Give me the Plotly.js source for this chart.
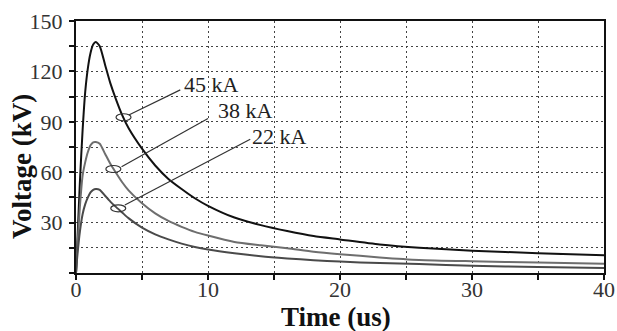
<!DOCTYPE html>
<html><head><meta charset="utf-8">
<script src="https://cdn.plot.ly/plotly-3.0.1.min.js"></script>
<style>html,body{margin:0;padding:0;background:#fff}#chart{width:617px;height:331px}</style>
</head><body><div id="chart"></div>
<script>
// Time (us)
const time = [0, 0.1, 0.3, 0.5, 0.7, 0.9, 1.1, 1.3, 1.5, 1.8, 2.2, 2.6, 3, 3.5, 4, 5, 6, 7, 8, 9, 10, 12, 14, 16, 18, 20, 23, 26, 30, 35, 40];
// Voltage (kV) for each current
const v45 = [0, 18, 55, 85, 108, 122, 131, 136, 137.5, 135, 124, 113, 104, 94, 86, 74, 64, 56, 50, 44.5, 40, 33, 28.5, 25, 22, 20, 17, 15, 13.3, 11.8, 10.5];
const v38 = [0, 15, 40, 58, 66, 72, 76, 77.8, 78, 77, 71, 65, 60, 54, 49, 41.5, 35.5, 31, 27.5, 24.5, 22.3, 18.5, 16.5, 14.8, 12.7, 11.2, 9.3, 7.8, 7, 6.2, 5.5];
const v22 = [0, 10, 25, 35, 41, 45, 48, 49.5, 50, 49.5, 46, 42.5, 39.5, 36, 32.5, 27, 23, 20, 17.5, 15.5, 14, 11.8, 10, 8.7, 7.6, 6.8, 5.9, 5.3, 4.3, 3.6, 3];
const seriesNames = ["45 kA", "38 kA", "22 kA"];
// label callouts: ellipse centre, leader start, leader end, text anchor (data units)
const ellipseX = [3.6, 2.83, 3.2];
const ellipseY = [92.7, 61.9, 38.5];
const leadStartX = [4.0, 3.45, 3.7];
const leadStartY = [94, 63.3, 40.5];
const leadEndX = [7.9, 10.0, 13.2];
const leadEndY = [109, 92, 79.6];
const textX = [8.05, 10.6, 13.2];
const textY = [112, 96.5, 81];
// ticks
const xTickVals = [0, 5, 10, 15, 20, 25, 30, 35, 40];
const xTickText = ["0", "", "10", "", "20", "", "30", "", "40"];
const yTickVals = [0, 15, 30, 45, 60, 75, 90, 105, 120, 135, 150];
const yTickText = ["", "", "30", "", "60", "", "90", "", "120", "", "150"];

const SERIF = "'Liberation Serif', serif";
const colors = ["#111111", "#6e6e6e", "#4a4a4a"];
const ys = [v45, v38, v22];
const traces = ys.map((y, i) => ({
  x: time, y: y, type: "scatter", mode: "lines", name: seriesNames[i],
  line: {color: colors[i], width: 2, shape: "spline", smoothing: 0.6},
  hoverinfo: "skip"
}));

const shapes = [];
const annotations = [];
for (let i = 0; i < 3; i++) {
  shapes.push({type: "line", xref: "x", yref: "y", x0: leadStartX[i], y0: leadStartY[i], x1: leadEndX[i], y1: leadEndY[i],
    line: {color: "#333", width: 1.2}});
  shapes.push({type: "circle", xref: "x", yref: "y", xsizemode: "pixel", ysizemode: "pixel",
    xanchor: ellipseX[i], yanchor: ellipseY[i], x0: -7.5, x1: 7.5, y0: -3.5, y1: 3.5,
    line: {color: "#333", width: 1.2}});
  annotations.push({xref: "x", yref: "y", x: textX[i], y: textY[i], text: seriesNames[i], showarrow: false,
    xanchor: "left", yanchor: "middle", font: {family: SERIF, size: 22, color: "#222"}});
}
// axis titles placed to match the reference
annotations.push({xref: "paper", yref: "paper", x: -0.1023, y: 0.5 - 19/252, xanchor: "center", yanchor: "middle",
  text: "<b>Voltage (kV)</b>", textangle: -90, showarrow: false,
  font: {family: SERIF, size: 27, color: "#111"}});
annotations.push({xref: "paper", yref: "paper", x: (336 - 76) / 528, y: -44 / 252, xanchor: "center", yanchor: "middle",
  text: "<b>Time (us)</b>", showarrow: false,
  font: {family: SERIF, size: 27, color: "#111"}});

const axisCommon = {
  showline: true, linecolor: "#111", linewidth: 2, mirror: true,
  showgrid: true, gridcolor: "#444", gridwidth: 1, griddash: "2px,3px",
  zeroline: false, ticks: "outside", ticklen: 5, tickwidth: 2, tickcolor: "#111",
  tickfont: {family: SERIF, size: 22, color: "#333"},
  tickmode: "array"
};
const layout = {
  width: 617, height: 331,
  margin: {l: 76, r: 13, t: 21, b: 58},
  paper_bgcolor: "#fff", plot_bgcolor: "#fff",
  showlegend: false,
  xaxis: Object.assign({}, axisCommon, {range: [0, 40], tickvals: xTickVals, ticktext: xTickText, ticklabelstandoff: -9}),
  yaxis: Object.assign({}, axisCommon, {range: [0, 150], tickvals: yTickVals, ticktext: yTickText, ticklabelstandoff: 2}),
  shapes: shapes,
  annotations: annotations
};
Plotly.newPlot("chart", traces, layout, {staticPlot: true, displayModeBar: false});
</script></body></html>
